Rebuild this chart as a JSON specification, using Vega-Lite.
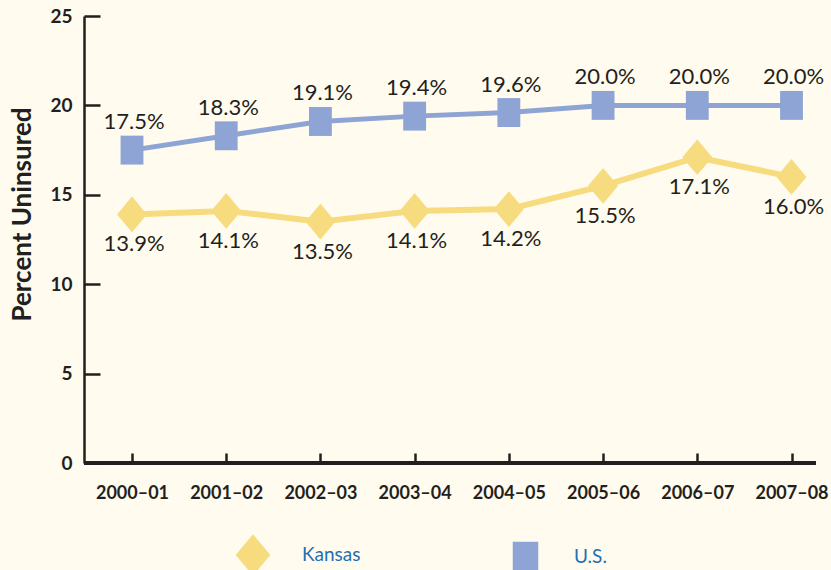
{
  "$schema": "https://vega.github.io/schema/vega-lite/v6.json",
  "width": 732,
  "height": 447,
  "autosize": "none",
  "padding": {"left": 84, "top": 16, "right": 15, "bottom": 107},
  "background": "#fffbee",
  "config": {
    "view": {"stroke": null},
    "font": "Lato",
    "axis": {"grid": false, "domainColor": "#231f20", "domainWidth": 2.5, "tickColor": "#231f20", "tickWidth": 2.5, "labelColor": "#231f20", "titleColor": "#231f20", "labelFont": "Lato", "labelFontWeight": "bold", "titleFont": "Lato", "titleFontWeight": "bold"}
  },
  "data": {
    "values": [
      {"period": "2000–01", "series": "Kansas", "value": 13.9, "label": "13.9%"},
      {"period": "2001–02", "series": "Kansas", "value": 14.1, "label": "14.1%"},
      {"period": "2002–03", "series": "Kansas", "value": 13.5, "label": "13.5%"},
      {"period": "2003–04", "series": "Kansas", "value": 14.1, "label": "14.1%"},
      {"period": "2004–05", "series": "Kansas", "value": 14.2, "label": "14.2%"},
      {"period": "2005–06", "series": "Kansas", "value": 15.5, "label": "15.5%"},
      {"period": "2006–07", "series": "Kansas", "value": 17.1, "label": "17.1%"},
      {"period": "2007–08", "series": "Kansas", "value": 16.0, "label": "16.0%"},
      {"period": "2000–01", "series": "U.S.", "value": 17.5, "label": "17.5%"},
      {"period": "2001–02", "series": "U.S.", "value": 18.3, "label": "18.3%"},
      {"period": "2002–03", "series": "U.S.", "value": 19.1, "label": "19.1%"},
      {"period": "2003–04", "series": "U.S.", "value": 19.4, "label": "19.4%"},
      {"period": "2004–05", "series": "U.S.", "value": 19.6, "label": "19.6%"},
      {"period": "2005–06", "series": "U.S.", "value": 20.0, "label": "20.0%"},
      {"period": "2006–07", "series": "U.S.", "value": 20.0, "label": "20.0%"},
      {"period": "2007–08", "series": "U.S.", "value": 20.0, "label": "20.0%"}
    ]
  },
  "encoding": {
    "x": {
      "field": "period", "type": "ordinal", "sort": null,
      "scale": {"type": "point", "range": [48, 707.5], "padding": 0},
      "axis": {"title": null, "labelAngle": 0, "labelFontSize": 18, "tickSize": -10, "labelPadding": 31, "domain": false}
    },
    "y": {
      "field": "value", "type": "quantitative",
      "scale": {"domain": [0, 25], "nice": false, "zero": true},
      "axis": {"title": "Percent Uninsured", "values": [0, 5, 10, 15, 20, 25], "labelFontSize": 19, "tickSize": -16, "labelPadding": 28, "titleFontSize": 26, "titleX": -49, "titleY": 198}
    }
  },
  "layer": [
    {
      "mark": {"type": "rule", "color": "#231f20", "strokeWidth": 2.5},
      "encoding": {"x": null, "y": {"datum": 0}}
    },
    {
      "mark": {"type": "line", "strokeCap": "butt"},
      "encoding": {
        "color": {"field": "series", "type": "nominal", "scale": {"domain": ["Kansas", "U.S."], "range": ["#f6dc7e", "#8ea4d4"]}},
        "strokeWidth": {"field": "series", "type": "nominal", "scale": {"domain": ["Kansas", "U.S."], "range": [6, 5]}, "legend": null}
      }
    },
    {
      "mark": {"type": "point", "filled": true, "opacity": 1, "size": 1274},
      "encoding": {
        "color": {"field": "series", "type": "nominal", "scale": {"domain": ["Kansas", "U.S."], "range": ["#f6dc7e", "#8ea4d4"]},
          "legend": {
            "title": null, "orient": "none", "direction": "horizontal", "legendX": 150, "legendY": 520, "padding": 0,
            "symbolSize": 1024, "labelOffset": 30, "columnPadding": 144, "labelFont": "Lato", "labelFontSize": 19, "labelColor": "#1f6fb2"
          }
        },
        "shape": {"field": "series", "type": "nominal", "scale": {"domain": ["Kansas", "U.S."], "range": ["M0,-1L0.84,0L0,1L-0.84,0Z", "M-0.64,-0.81L0.64,-0.81L0.64,0.81L-0.64,0.81Z"]}}
      }
    },
    {
      "transform": [{"filter": "datum.series === 'U.S.'"}],
      "mark": {"type": "text", "font": "Lato", "fontSize": 22, "color": "#231f20", "dy": -28, "dx": 2, "baseline": "middle"},
      "encoding": {"text": {"field": "label", "type": "nominal"}}
    },
    {
      "transform": [{"filter": "datum.series === 'Kansas'"}],
      "mark": {"type": "text", "font": "Lato", "fontSize": 22, "color": "#231f20", "dy": 30, "dx": 2, "baseline": "middle"},
      "encoding": {"text": {"field": "label", "type": "nominal"}}
    }
  ]
}
